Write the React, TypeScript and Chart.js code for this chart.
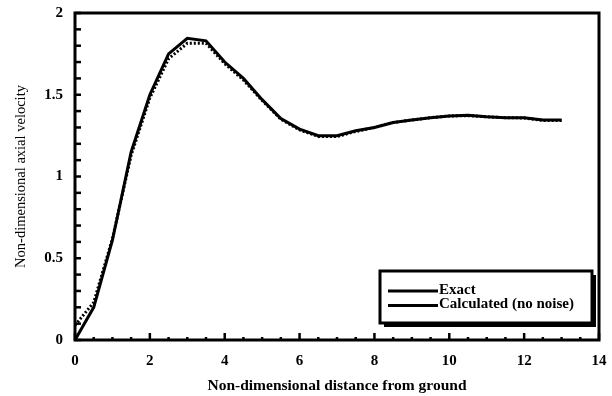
import React, { useEffect, useRef } from "react";
import { Chart, registerables } from "chart.js";

Chart.register(...registerables);

const distance = [0, 0.5, 1, 1.5, 2, 2.5, 3, 3.5, 4, 4.5, 5, 5.5, 6, 6.5, 7, 7.5, 8, 8.5, 9, 9.5, 10, 10.5, 11, 11.5, 12, 12.5, 13];
const exactVelocity = [0, 0.2, 0.61, 1.15, 1.5, 1.75, 1.845, 1.83, 1.7, 1.6, 1.47, 1.355, 1.29, 1.25, 1.25, 1.28, 1.3, 1.33, 1.345, 1.36, 1.37, 1.375, 1.365, 1.36, 1.36, 1.345, 1.345];
const calculatedVelocity = [0.09, 0.23, 0.62, 1.13, 1.48, 1.72, 1.815, 1.815, 1.69, 1.59, 1.465, 1.35, 1.285, 1.245, 1.245, 1.275, 1.3, 1.33, 1.345, 1.36, 1.37, 1.372, 1.365, 1.36, 1.358, 1.343, 1.343];
const xTickValues = [0, 2, 4, 6, 8, 10, 12, 14];
const yTickValues = [0, 0.5, 1, 1.5, 2];
const seriesLabels = ["Exact", "Calculated (no noise)"];

const SERIF = "'Liberation Serif', 'DejaVu Serif', serif";

const framePlugin = {
  id: "frame",
  afterDraw(chart: any) {
    const ctx = chart.ctx;
    const { left, right, top, bottom } = chart.chartArea;
    const xs = chart.scales.x;
    const ys = chart.scales.y;
    ctx.save();
    ctx.strokeStyle = "#000";
    ctx.lineWidth = 3;
    ctx.strokeRect(left, top, right - left, bottom - top);
    // inward ticks
    ctx.lineWidth = 2.5;
    for (let v = 0; v <= 14.001; v += 0.5) {
      const px = xs.getPixelForValue(v);
      const major = Math.abs(v / 2 - Math.round(v / 2)) < 1e-6;
      ctx.beginPath();
      ctx.moveTo(px, bottom);
      ctx.lineTo(px, bottom - (major ? 7 : 3));
      ctx.stroke();
    }
    for (let v = 0; v <= 2.001; v += 0.1) {
      const py = ys.getPixelForValue(v);
      ctx.beginPath();
      ctx.moveTo(left, py);
      ctx.lineTo(left + 6, py);
      ctx.stroke();
    }
    // legend box
    const bx = left + 305, by = top + 258, bw = 212, bh = 52;
    ctx.fillStyle = "#000";
    ctx.fillRect(bx + 4, by + 4, bw, bh);
    ctx.fillStyle = "#fff";
    ctx.fillRect(bx, by, bw, bh);
    ctx.lineWidth = 3;
    ctx.strokeRect(bx, by, bw, bh);
    ctx.lineWidth = 3;
    ctx.font = "bold 15px " + SERIF;
    ctx.fillStyle = "#000";
    ctx.textBaseline = "middle";
    ctx.textAlign = "left";
    chart.data.datasets.forEach((ds: any, i: number) => {
      const ly = by + 20 + i * 14.5;
      ctx.beginPath();
      ctx.setLineDash([]);
      ctx.moveTo(bx + 8, ly);
      ctx.lineTo(bx + 58, ly);
      ctx.stroke();
      ctx.fillText(ds.label, bx + 59, ly - 1);
    });
    ctx.restore();
  },
};

export default function App() {
  const ref = useRef<HTMLCanvasElement | null>(null);
  useEffect(() => {
    if (!ref.current) return;
    const chart = new Chart(ref.current, {
      type: "line",
      data: {
        datasets: [
          {
            label: seriesLabels[0],
            data: distance.map((x, i) => ({ x, y: exactVelocity[i] })),
            borderColor: "#000",
            borderWidth: 3,
            pointRadius: 0,
            tension: 0,
          },
          {
            label: seriesLabels[1],
            data: distance.map((x, i) => ({ x, y: calculatedVelocity[i] })),
            borderColor: "#000",
            borderWidth: 3,
            borderDash: [2, 2],
            pointRadius: 0,
            tension: 0,
          },
        ],
      },
      options: {
        responsive: false,
        animation: false,
        layout: { padding: { top: 13, right: 13, left: 12, bottom: 1 } },
        plugins: { legend: { display: false }, tooltip: { enabled: false } },
        scales: {
          x: {
            type: "linear",
            min: 0,
            max: 14,
            afterBuildTicks: (s: any) => { s.ticks = xTickValues.map((v) => ({ value: v })); },
            afterFit: (s: any) => { s.height = 55; s.paddingLeft = 0; s.paddingRight = 0; },
            grid: { display: false, drawTicks: false },
            border: { display: false },
            ticks: { color: "#000", padding: 12, font: { family: SERIF, size: 15, weight: "bold" } },
            title: { display: true, text: "Non-dimensional distance from ground", color: "#000", padding: { top: 0, bottom: 0 }, font: { family: SERIF, size: 15.5, weight: "bold" } },
          },
          y: {
            type: "linear",
            min: 0,
            max: 2,
            afterBuildTicks: (s: any) => { s.ticks = yTickValues.map((v) => ({ value: v })); },
            afterFit: (s: any) => { s.width = 63; s.paddingTop = 0; s.paddingBottom = 0; },
            grid: { display: false, drawTicks: false },
            border: { display: false },
            ticks: { color: "#000", padding: 12, callback: (v: any) => String(v), font: { family: SERIF, size: 15, weight: "bold" } },
            title: { display: true, text: "Non-dimensional axial velocity", color: "#000", padding: { top: 0, bottom: 0 }, font: { family: SERIF, size: 14.5 } },
          },
        },
      },
      plugins: [framePlugin],
    });
    return () => chart.destroy();
  }, []);
  return (
    <div style={{ position: "fixed", left: 0, top: 0, width: 612, height: 396, background: "#fff" }}>
      <canvas ref={ref} width={612} height={396} />
    </div>
  );
}
